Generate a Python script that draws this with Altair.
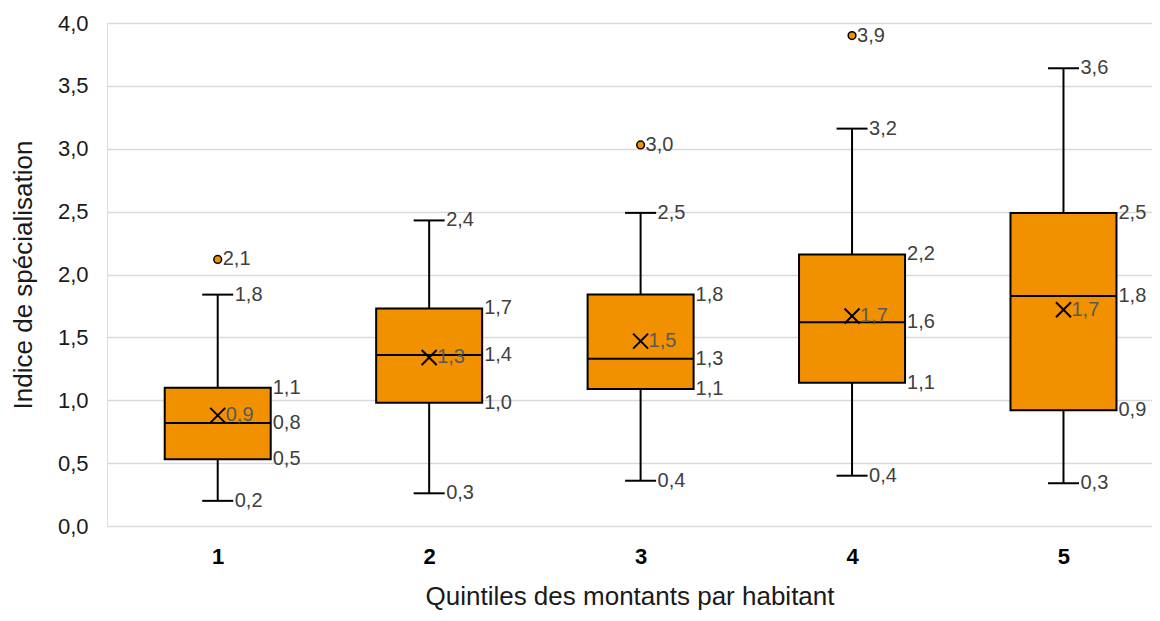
import altair as alt
import pandas as pd

# ---- data ----
quintiles = [1, 2, 3, 4, 5]
whisker_low = [0.20, 0.26, 0.36, 0.40, 0.34]
q1 = [0.53, 0.98, 1.09, 1.14, 0.92]
median = [0.82, 1.36, 1.33, 1.62, 1.83]
q3 = [1.10, 1.73, 1.84, 2.16, 2.49]
whisker_high = [1.84, 2.43, 2.49, 3.16, 3.64]
mean = [0.88, 1.34, 1.47, 1.67, 1.72]
outlier_quintile = [1, 3, 4]
outlier_value = [2.12, 3.03, 3.90]
y_ticks = [0, 0.5, 1.0, 1.5, 2.0, 2.5, 3.0, 3.5, 4.0]

ORANGE = "#F29100"
FONT = "Liberation Sans"


def fr(v):
    return f"{v:.1f}".replace(".", ",")


box_df = pd.DataFrame({
    "quintile": quintiles, "low": whisker_low, "q1": q1, "median": median,
    "q3": q3, "high": whisker_high, "mean": mean,
})
out_df = pd.DataFrame({"quintile": outlier_quintile, "value": outlier_value})

rows = []
for i, qn in enumerate(quintiles):
    for kind, arr in (("box", q1), ("box", median), ("box", q3),
                      ("whisker", whisker_low), ("whisker", whisker_high),
                      ("mean", mean)):
        rows.append({"quintile": qn, "value": arr[i], "label": fr(arr[i]), "kind": kind})
for qn, v in zip(outlier_quintile, outlier_value):
    rows.append({"quintile": qn, "value": v, "label": fr(v), "kind": "outlier"})
lab_df = pd.DataFrame(rows)

xscale = alt.Scale(domain=[0.5, 5.395], nice=False, zero=False)
yscale = alt.Scale(domain=[0, 4], nice=False, zero=True)

xaxis = alt.Axis(
    values=quintiles, format="d", title="Quintiles des montants par habitant",
    grid=False, domain=False, ticks=False, tickSize=0,
    labelFontWeight="bold", labelFontSize=22, labelColor="#000000", labelFont=FONT,
    labelPadding=20, titleFontSize=26, titleFontWeight="normal", titleColor="#1a1a1a",
    titleFont=FONT, titlePadding=16,
)
yaxis = alt.Axis(
    values=y_ticks, labelExpr="replace(format(datum.value, '.1f'), '.', ',')",
    title="Indice de spécialisation", grid=True, gridColor="#D9D9D9", gridWidth=1.5,
    domain=False, ticks=False, tickSize=0, labelFontSize=22, labelColor="#1a1a1a",
    labelFont=FONT, labelPadding=19, titleFontSize=26, titleFontWeight="normal",
    titleColor="#1a1a1a", titleFont=FONT, titlePadding=21,
)

X = alt.X("quintile:Q", scale=xscale, axis=xaxis)

base = alt.Chart(box_df)
whisk_lo = base.mark_rule(color="black", strokeWidth=2).encode(
    x=X, y=alt.Y("low:Q", scale=yscale, axis=yaxis), y2="q1:Q")
whisk_hi = base.mark_rule(color="black", strokeWidth=2).encode(
    x=X, y=alt.Y("q3:Q", scale=yscale, axis=yaxis), y2="high:Q")
cap_lo = base.mark_tick(orient="horizontal", size=31, thickness=2, color="black", opacity=1).encode(
    x=X, y=alt.Y("low:Q", scale=yscale, axis=yaxis))
cap_hi = base.mark_tick(orient="horizontal", size=31, thickness=2, color="black", opacity=1).encode(
    x=X, y=alt.Y("high:Q", scale=yscale, axis=yaxis))
box = base.mark_bar(size=106, fill=ORANGE, stroke="black", strokeWidth=2, opacity=1).encode(
    x=X, y=alt.Y("q1:Q", scale=yscale, axis=yaxis), y2="q3:Q")
med = base.mark_tick(orient="horizontal", size=106, thickness=2, color="black", opacity=1).encode(
    x=X, y=alt.Y("median:Q", scale=yscale, axis=yaxis))
mean_pt = base.mark_point(shape="M-1,-1L1,1M-1,1L1,-1", size=225, stroke="black",
                          strokeWidth=2, filled=False, opacity=1).encode(
    x=X, y=alt.Y("mean:Q", scale=yscale, axis=yaxis))
outl = alt.Chart(out_df).mark_point(shape="circle", size=60, fill=ORANGE, stroke="black",
                                    strokeWidth=1.5, filled=True, opacity=1).encode(
    x=X, y=alt.Y("value:Q", scale=yscale, axis=yaxis))


def text_layer(kind, dx, color="#404040"):
    return alt.Chart(lab_df).transform_filter(alt.datum.kind == kind).mark_text(
        align="left", baseline="middle", dx=dx, fontSize=20, font=FONT, color=color,
    ).encode(x=X, y=alt.Y("value:Q", scale=yscale, axis=yaxis), text="label:N")


chart = alt.layer(
    whisk_lo, whisk_hi, cap_lo, cap_hi, box, med, mean_pt, outl,
    text_layer("box", 55), text_layer("whisker", 17), text_layer("mean", 8, "#595959"),
    text_layer("outlier", 5),
).properties(
    width=1045, height=503,
    autosize=alt.AutoSizeParams(type="none"),
    padding={"left": 99, "top": 15, "right": 0, "bottom": 86},
).configure_view(stroke=None).configure(background="white")

chart.save("out.html", embed_options={"renderer": "svg", "actions": False})
